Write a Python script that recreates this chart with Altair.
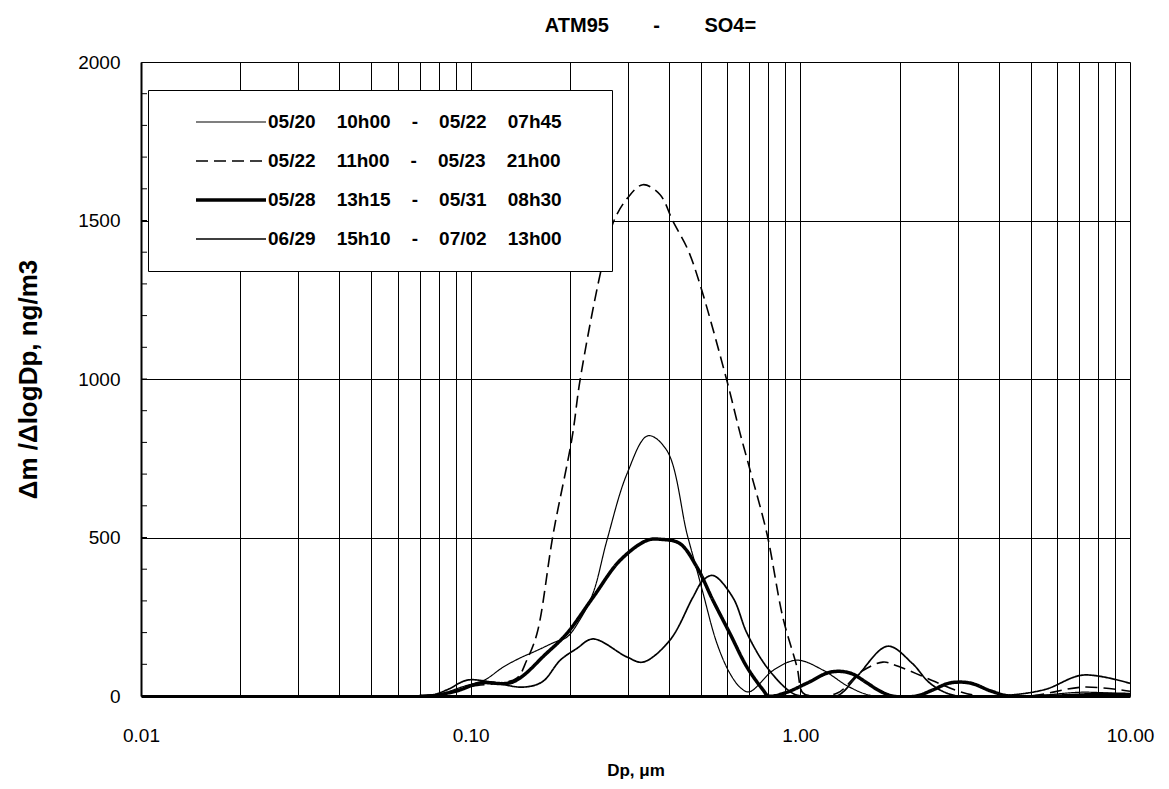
import altair as alt
import pandas as pd

NB = "\u00a0"
G = NB * 4
TAIL = "\u2800" * 2

SERIES = [
    f"05/20{G}10h00{G}-{G}05/22{G}07h45{TAIL}",
    f"05/22{G}11h00{G}-{G}05/23{G}21h00{TAIL}",
    f"05/28{G}13h15{G}-{G}05/31{G}08h30{TAIL}",
    f"06/29{G}15h10{G}-{G}07/02{G}13h00{TAIL}",
]
WIDTHS = [1.2, 1.6, 3.5, 1.7]
DASHES = [[1, 0], [12, 6], [1, 0], [1, 0]]

S1_X = [0.07, 0.08, 0.095, 0.11, 0.125, 0.14, 0.16, 0.18, 0.196, 0.214, 0.235, 0.259, 0.298, 0.345, 0.394,
        0.453, 0.486, 0.507, 0.558, 0.611, 0.66, 0.70, 0.83, 0.978, 1.17, 1.41, 1.67, 3.0, 5.0, 7.2, 10.0]
S1_Y = [0, 5, 30, 50, 90, 118, 145, 170, 186, 239, 324, 491, 701, 821, 774,
        512, 396, 324, 167, 72, 25, 13, 82, 113, 82, 28, 0, 0, 0, 12, 5]

S2_X = [0.07, 0.085, 0.1, 0.12, 0.138, 0.148, 0.159, 0.178, 0.203, 0.2145, 0.247, 0.270, 0.298, 0.333, 0.375,
        0.411, 0.455, 0.496, 0.599, 0.656, 0.703, 0.792, 0.885, 0.977, 1.018, 1.1, 1.3, 1.52, 1.78, 1.94, 2.5,
        3.0, 3.5, 5.0, 7.2, 10.0]
S2_Y = [0, 10, 30, 40, 56, 113, 198, 512, 814, 994, 1330, 1491, 1569, 1613, 1582,
        1497, 1410, 1299, 994, 830, 715, 512, 248, 91, 10, 0, 10, 75, 107, 97, 50,
        16, 0, 0, 28, 15]

S3_X = [0.07, 0.075, 0.09, 0.107, 0.134, 0.170, 0.196, 0.235, 0.284, 0.343, 0.380, 0.431, 0.486, 0.543, 0.611,
        0.689, 0.771, 0.80, 0.9, 1.05, 1.23, 1.41, 1.6, 1.72, 1.9, 2.25, 2.52, 2.84, 3.27, 3.8, 4.3, 6.0, 8.0,
        10.0]
S3_Y = [0, 0, 15, 41, 44, 135, 198, 311, 428, 491, 494, 481, 406, 302, 198,
        91, 19, 0, 10, 41, 75, 73, 40, 19, 0, 0, 19, 41, 41, 15, 0, 0, 5,
        5]

S4_X = [0.07, 0.075, 0.085, 0.0975, 0.114, 0.144, 0.165, 0.187, 0.21, 0.235, 0.298, 0.333, 0.402, 0.472, 0.507,
        0.544, 0.624, 0.689, 0.79, 0.93, 1.0, 1.29, 1.48, 1.84, 2.18, 2.45, 2.7, 3.0, 4.0, 5.5, 7.2, 10.0]
S4_Y = [0, 0, 20, 50, 45, 28, 45, 113, 150, 180, 123, 107, 176, 311, 365,
        380, 311, 198, 92, 14, 0, 0, 60, 157, 104, 44, 15, 0, 0, 20, 66, 40]

X_GRID = [round(m * 10 ** e, 4) for e in (-2, -1, 0) for m in range(1, 10)] + [10.0]
Y_MAJOR = [0, 500, 1000, 1500, 2000]
Y_MINOR = [v for v in range(100, 2000, 100)]

rows = []
for name, xs, ys in zip(SERIES, [S1_X, S2_X, S3_X, S4_X], [S1_Y, S2_Y, S3_Y, S4_Y]):
    for x, y in zip(xs, ys):
        rows.append({"series": name, "dp": x, "v": y})
df = pd.DataFrame(rows)

FONT = "Liberation Sans"

legend = alt.Legend(
    orient="none", legendX=7, legendY=28, title=None,
    symbolType="stroke", symbolSize=4900, symbolStrokeColor="black",
    clipHeight=20, rowPadding=19, padding=22, symbolOffset=24, labelOffset=0,
    labelFont=FONT, labelFontWeight="bold", labelFontSize=19, labelColor="black", labelLimit=0,
    fillColor="white", strokeColor="black",
)

lines = alt.Chart(df).mark_line(interpolate="catmull-rom", color="black", clip=True).encode(
    x=alt.X("dp:Q",
            scale=alt.Scale(type="log", domain=[0.01, 10], nice=False),
            axis=alt.Axis(values=X_GRID, grid=True, gridColor="black", gridOpacity=1, gridWidth=1,
                          ticks=False, domain=True, domainColor="black", domainWidth=3,
                          labelExpr="indexof([0.01,0.1,1,10], datum.value) >= 0 ? format(datum.value, '.2f') : ''",
                          labelFlush=False, labelOverlap=False, labelBound=False,
                          labelFont=FONT, labelFontSize=19, labelColor="black", labelPadding=30,
                          title="Dp, μm", titleFont=FONT, titleFontSize=17, titleFontWeight="bold",
                          titleColor="black", titlePadding=17)),
    y=alt.Y("v:Q",
            scale=alt.Scale(domain=[0, 2000], nice=False),
            axis=alt.Axis(values=Y_MAJOR, format="d", grid=True, gridColor="black", gridOpacity=1, gridWidth=1,
                          ticks=False, domain=True, domainColor="black", domainWidth=2,
                          labelFont=FONT, labelFontSize=19, labelColor="black", labelPadding=21,
                          title="Δm /ΔlogDp, ng/m3", titleFont=FONT, titleFontSize=26,
                          titleFontWeight="bold", titleColor="black", titlePadding=36)),
    strokeDash=alt.StrokeDash("series:N", sort=SERIES,
                              scale=alt.Scale(domain=SERIES, range=DASHES),
                              legend=legend),
    strokeWidth=alt.StrokeWidth("series:N", sort=SERIES,
                                scale=alt.Scale(type="ordinal", domain=SERIES, range=WIDTHS),
                                legend=legend),
)

minor = alt.Chart(pd.DataFrame({"v": Y_MINOR})).mark_rule(color="black", strokeWidth=1).encode(
    y=alt.Y("v:Q", scale=alt.Scale(domain=[0, 2000], nice=False)),
    x=alt.value(0), x2=alt.value(6),
)

chart = alt.layer(lines, minor).properties(
    width=989, height=634,
    title=alt.Title(f"ATM95{NB*8}-{NB*8}SO4=", font=FONT, fontSize=20, fontWeight="bold",
                    color="black", offset=17, dx=15),
    padding={"left": 133, "top": 54, "right": 30, "bottom": 85},
    autosize=alt.AutoSizeParams(type="none"),
).configure_view(stroke="black", strokeWidth=2).configure(background="white")

chart.save("out.html", embed_options={"renderer": "svg", "actions": False})
